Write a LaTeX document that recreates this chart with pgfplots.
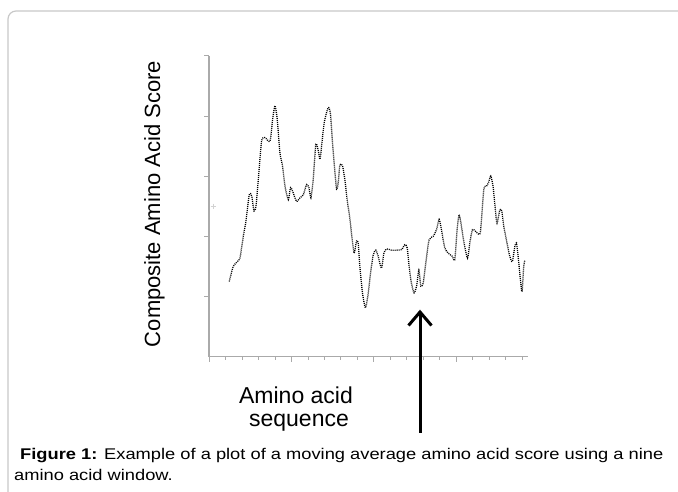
\documentclass[border=0pt]{standalone}
\usepackage{pgfplots}
\pgfplotsset{compat=1.18}
\usepackage{pgfplotstable}
\usepackage{fontspec}
\setmainfont{Liberation Sans}
\definecolor{axgray}{RGB}{170,170,170}
\definecolor{framegray}{RGB}{200,200,200}
\pgfplotstableread{
x y
1.23 1.25
1.47 1.50
1.72 1.58
1.88 1.64
2.08 2.00
2.24 2.25
2.44 2.69
2.59 2.67
2.73 2.42
2.85 2.50
2.99 2.94
3.19 3.58
3.39 3.64
3.70 3.58
3.86 3.94
4.00 4.17
4.14 3.94
4.30 3.39
4.46 3.17
4.61 2.83
4.81 2.61
4.95 2.81
5.11 2.72
5.31 2.58
5.52 2.64
5.72 2.69
5.92 2.86
6.06 2.81
6.18 2.64
6.32 2.94
6.48 3.53
6.63 3.42
6.73 3.28
6.83 3.50
6.99 3.89
7.23 4.14
7.37 4.03
7.49 3.56
7.64 3.06
7.74 2.78
7.84 2.89
7.94 3.19
8.10 3.17
8.24 2.94
8.38 2.61
8.55 2.28
8.71 1.89
8.81 1.72
8.95 1.92
9.05 1.89
9.15 1.50
9.31 1.06
9.49 0.81
9.66 1.06
9.80 1.39
9.96 1.69
10.12 1.77
10.26 1.67
10.46 1.47
10.61 1.72
10.77 1.79
11.07 1.77
11.37 1.77
11.68 1.78
11.88 1.86
12.02 1.81
12.14 1.50
12.28 1.22
12.44 1.06
12.59 1.17
12.73 1.44
12.85 1.17
12.99 1.22
13.15 1.56
13.35 1.94
13.60 2.00
13.80 2.11
13.96 2.28
14.10 2.11
14.30 1.81
14.51 1.72
14.75 1.67
14.91 1.61
15.05 2.11
15.17 2.36
15.31 2.17
15.47 1.89
15.68 1.64
15.82 1.89
15.98 2.11
16.18 2.08
16.38 2.03
16.48 2.11
16.67 2.78
16.83 2.83
16.95 2.89
17.09 3.00
17.23 2.83
17.35 2.50
17.47 2.22
17.64 2.44
17.76 2.42
17.88 2.17
18.04 1.94
18.24 1.67
18.40 1.58
18.55 1.83
18.65 1.89
18.75 1.67
18.89 1.28
18.99 1.08
19.09 1.50
19.17 1.61
}\seqdata
\begin{document}
\begin{tikzpicture}
\useasboundingbox (0pt,0pt) rectangle (678pt,-492pt);
\draw[framegray, line width=1.2pt, rounded corners=8pt] (682pt,-11pt) -- (8pt,-11pt) -- (8pt,-496pt);
\begin{axis}[
  scale only axis, width=319pt, height=301pt,
  at={(209pt,-356.7pt)}, anchor=south west,
  xmin=0, xmax=19.35, ymin=0, ymax=5,
  axis x line=bottom, axis y line=left,
  axis line style={-, axgray, line width=1.1pt},
  every tick/.style={axgray, line width=0.8pt},
  xtick={0,5,10,15}, minor xtick={1,2,3,4,6,7,8,9,11,12,13,14,16,17,18,19},
  ytick={1,2,3,4,5},
  xticklabels={}, yticklabels={},
  tick align=outside,
  major tick length=5pt, minor tick length=3pt,
  clip=false,
]
\addplot[black, line width=1.3pt, dash pattern=on 1pt off 1pt, smooth, tension=0.4] table[x=x,y=y] {\seqdata};
\addplot[only marks, mark=+, mark size=2.5pt, color=gray!35] coordinates {(0.25,2.5)};
\end{axis}
% y label
\node[rotate=90, anchor=base, inner sep=0pt, font=\fontsize{22}{26}\selectfont] at (160pt,-204pt) {Composite Amino Acid Score};
% x label
\node[anchor=base, inner sep=0pt, font=\fontsize{23}{27}\selectfont] at (296pt,-403pt) {Amino acid};
\node[anchor=base, inner sep=0pt, font=\fontsize{23}{27}\selectfont] at (299pt,-426pt) {sequence};
% arrow
\draw[black, line width=3pt] (420pt,-313pt) -- (420pt,-433pt);
\draw[black, line width=3pt, line join=miter, line cap=butt] (408.5pt,-325.5pt) -- (420pt,-312pt) -- (431.5pt,-325.5pt);
% caption
\node[anchor=base west, inner sep=0pt, font=\fontsize{15.5}{18}\selectfont] at (20pt,-459pt) {\scalebox{1.18}[1]{\textbf{Figure 1:} Example of a plot of a moving average amino acid score using a nine}};
\node[anchor=base west, inner sep=0pt, font=\fontsize{15.5}{18}\selectfont] at (14pt,-480pt) {\scalebox{1.18}[1]{amino acid window.}};
\end{tikzpicture}
\end{document}
